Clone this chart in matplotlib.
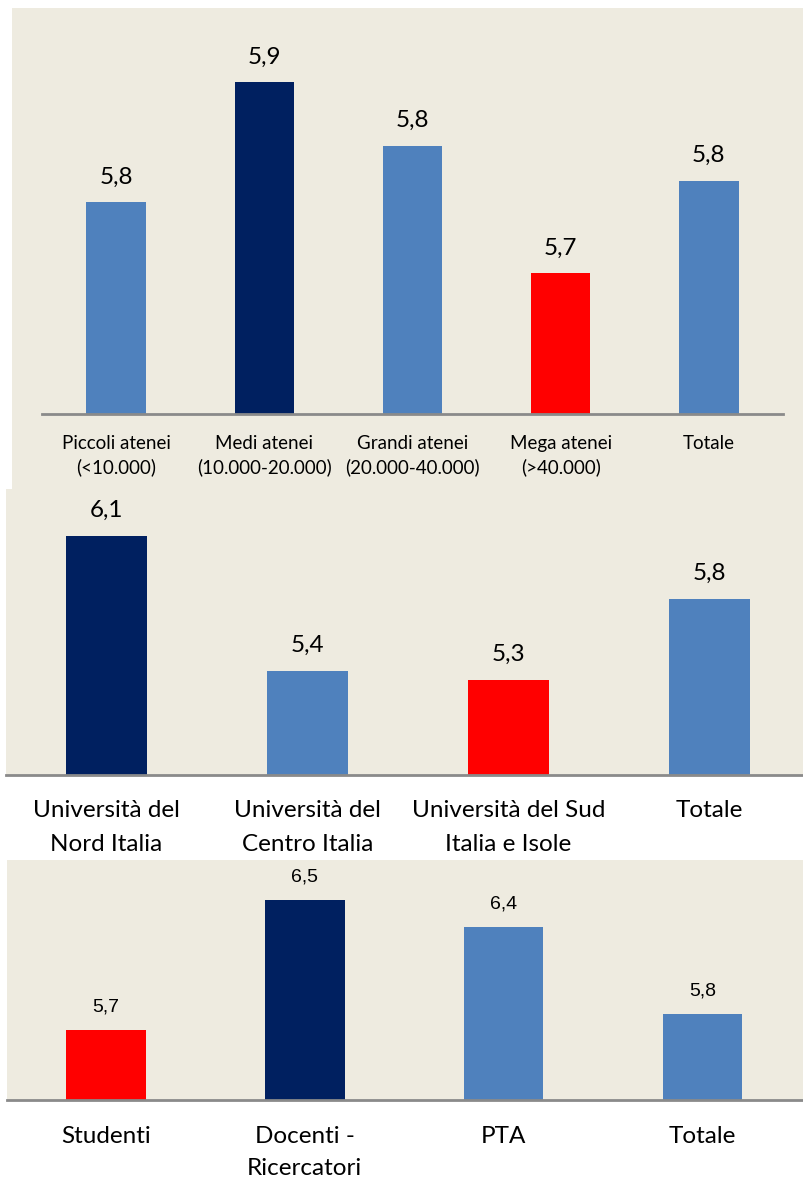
import matplotlib
matplotlib.use("Agg")
import matplotlib.pyplot as plt
from matplotlib.patches import Rectangle

# ---------------- data ----------------
cat1 = ["Piccoli atenei\n(<10.000)", "Medi atenei\n(10.000-20.000)",
        "Grandi atenei\n(20.000-40.000)", "Mega atenei\n(>40.000)", "Totale"]
val1 = [5.766, 5.917, 5.837, 5.677, 5.793]

cat2 = ["Università del\nNord Italia", "Università del\nCentro Italia",
        "Università del Sud\nItalia e Isole", "Totale"]
val2 = [6.13, 5.38, 5.33, 5.78]

cat3 = ["Studenti", "Docenti -\nRicercatori", "PTA", "Totale"]
val3 = [5.73, 6.53, 6.36, 5.83]

LIGHT = "#4F81BD"
NAVY = "#002060"
RED = "#FF0000"
col1 = [LIGHT, NAVY, LIGHT, RED, LIGHT]
col2 = [NAVY, LIGHT, RED, LIGHT]
col3 = [RED, NAVY, LIGHT, LIGHT]

BG = "#EEEBE0"
W, H = 804, 1178
DPI = 100
plt.rcParams['font.family'] = ['Lato', 'DejaVu Sans']

fig = plt.figure(figsize=(W / DPI, H / DPI), dpi=DPI)
fig.patch.set_facecolor("white")


def bg(x0, y0, x1, y1):
    fig.add_artist(Rectangle((x0 / W, 1 - y1 / H), (x1 - x0) / W, (y1 - y0) / H,
                             transform=fig.transFigure, facecolor=BG,
                             edgecolor="none", zorder=0))


def panel(cats, vals, cols, x_left, x_right, y_top, y_base, ymin, k,
          vfs, cfs, cpad, lsp, vfam=None, voff=25):
    ax = fig.add_axes([x_left / W, 1 - y_base / H, (x_right - x_left) / W,
                       (y_base - y_top) / H])
    n = len(cats)
    ax.set_xlim(-0.5, n - 0.5)
    ax.set_ylim(ymin, ymin + (y_base - y_top) / k)
    ax.patch.set_alpha(0)
    ax.bar(range(n), [v - ymin for v in vals], bottom=ymin, width=0.4,
           color=cols, zorder=2)
    for s in ["top", "left", "right"]:
        ax.spines[s].set_visible(False)
    ax.spines["bottom"].set_color("#8A8A8A")
    ax.spines["bottom"].set_linewidth(2)
    ax.set_xticks([])
    ax.set_yticks([])
    for i, (c, v) in enumerate(zip(cats, vals)):
        kw = {}
        if vfam:
            kw["family"] = vfam
        ax.annotate(f"{v:.1f}".replace(".", ","), xy=(i, v), xytext=(0, voff),
                    textcoords="offset pixels", ha="center", va="center",
                    fontsize=vfs, color="black", annotation_clip=False, **kw)
        ax.annotate(c, xy=(i, ymin), xytext=(0, -cpad),
                    textcoords="offset pixels", ha="center", va="top",
                    fontsize=cfs, color="black", linespacing=lsp,
                    annotation_clip=False, multialignment="center")
    return ax


# backgrounds
bg(12, 8, 804, 489)
bg(6, 489, 804, 775)
bg(7, 860, 804, 1100)

panel(cat1, val1, col1, 42, 783, 16, 414, 5.5, 796,
      vfs=17.5, cfs=13.5, cpad=21, lsp=1.41)
panel(cat2, val2, col2, 6, 810, 505, 775, 4.8, 180,
      vfs=17.5, cfs=17.5, cpad=25, lsp=1.75)
panel(cat3, val3, col3, 6.5, 802, 870, 1100, 5.3, 163,
      vfs=14, cfs=17.5, cpad=26, lsp=1.62, vfam=['Liberation Sans', 'DejaVu Sans'],
      voff=23)

fig.savefig("out.png", dpi=DPI, facecolor="white")
